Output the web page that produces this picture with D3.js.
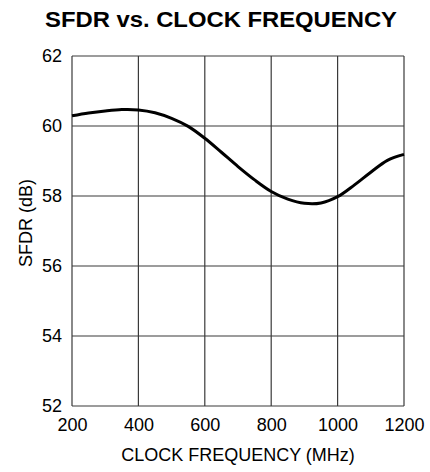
<!DOCTYPE html>
<html>
<head>
<meta charset="utf-8">
<script src="https://cdn.jsdelivr.net/npm/d3@7"></script>
<style>
  html, body { margin: 0; padding: 0; background: #fff; }
  svg { display: block; font-family: "Liberation Sans", Arial, Helvetica, sans-serif; }
</style>
</head>
<body>
<svg id="chart" width="430" height="472"></svg>
<script>
const title = "SFDR vs. CLOCK FREQUENCY";
const xLabel = "CLOCK FREQUENCY (MHz)";
const yLabel = "SFDR (dB)";
const xTicks = [200, 400, 600, 800, 1000, 1200];
const yTicks = [52, 54, 56, 58, 60, 62];
const freq = [200, 250, 300, 350, 400, 450, 500, 550, 600, 650, 700, 750, 800, 850, 900, 950, 1000, 1050, 1100, 1150, 1200];
const sfdr = [60.29, 60.37, 60.43, 60.47, 60.46, 60.38, 60.22, 59.99, 59.65, 59.25, 58.84, 58.46, 58.13, 57.91, 57.79, 57.80, 57.98, 58.31, 58.68, 59.02, 59.19];

(function () {
const svg = d3.select("#chart");
const mLeft = 72, mRight = 404, mTop = 56, mBottom = 406;
const fontFam = "'Liberation Sans', Arial, sans-serif";

const x = d3.scaleLinear().domain([200, 1200]).range([mLeft, mRight]);
const y = d3.scaleLinear().domain([52, 62]).range([mBottom, mTop]);

svg.append("text")
  .attr("x", 221).attr("y", 27)
  .attr("text-anchor", "middle")
  .attr("font-size", 22).attr("font-weight", "bold")
  .attr("textLength", 352).attr("lengthAdjust", "spacingAndGlyphs")
  .text(title);

const grid = svg.append("g").attr("stroke", "#3a3a3a").attr("stroke-width", 1.2);
grid.selectAll("line.v").data(xTicks).join("line").attr("class", "v")
  .attr("x1", d => x(d)).attr("x2", d => x(d))
  .attr("y1", mTop).attr("y2", mBottom);
grid.selectAll("line.h").data(yTicks).join("line").attr("class", "h")
  .attr("x1", mLeft).attr("x2", mRight)
  .attr("y1", d => y(d)).attr("y2", d => y(d));

const xAxis = svg.append("g")
  .attr("transform", `translate(0,${mBottom})`)
  .call(d3.axisBottom(x).tickValues(xTicks).tickFormat(d3.format("d")).tickSize(0).tickPadding(12));
xAxis.select(".domain").remove();
xAxis.selectAll("text").attr("font-size", 18).attr("fill", "#000")
  .style("font-family", fontFam);

const yAxis = svg.append("g")
  .attr("transform", `translate(${mLeft},0)`)
  .call(d3.axisLeft(y).tickValues(yTicks).tickFormat(d3.format("d")).tickSize(0).tickPadding(10));
yAxis.select(".domain").remove();
yAxis.selectAll("text").attr("font-size", 18).attr("fill", "#000")
  .style("font-family", fontFam);

svg.append("text")
  .attr("x", 238).attr("y", 461)
  .attr("text-anchor", "middle")
  .attr("font-size", 18)
  .text(xLabel);

svg.append("text")
  .attr("transform", "translate(32,223) rotate(-90)")
  .attr("text-anchor", "middle")
  .attr("font-size", 18)
  .text(yLabel);

const line = d3.line().x((d, i) => x(freq[i])).y(d => y(d)).curve(d3.curveCatmullRom.alpha(0.5));
svg.append("path")
  .datum(sfdr)
  .attr("d", line)
  .attr("fill", "none")
  .attr("stroke", "#000")
  .attr("stroke-width", 3);
})();
</script>
</body>
</html>
